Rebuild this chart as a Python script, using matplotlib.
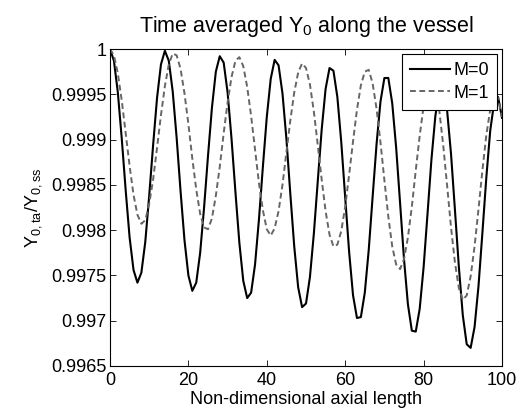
import matplotlib
matplotlib.use('Agg')
import matplotlib.pyplot as plt
import numpy as np

# axial positions (non-dimensional), one sample per unit
axial_pos = np.arange(0, 101)

# Y0 time averaged / steady state
ratio_m0 = [
    1.00000, 0.99987, 0.99952, 0.99901, 0.99844, 0.99792, 0.99756, 0.99742,
    0.99753, 0.99787, 0.99838, 0.99894, 0.99946, 0.99983, 0.99998,
    0.99987, 0.99953, 0.99902, 0.99843, 0.99789, 0.99750, 0.99733,
    0.99742, 0.99775, 0.99825, 0.99882, 0.99935, 0.99975, 0.99992,
    0.99985, 0.99952, 0.99901, 0.99842, 0.99786, 0.99744, 0.99725,
    0.99731, 0.99762, 0.99812, 0.99870, 0.99925, 0.99967, 0.99988,
    0.99982, 0.99951, 0.99901, 0.99840, 0.99782, 0.99737, 0.99715,
    0.99719, 0.99748, 0.99796, 0.99854, 0.99911, 0.99956, 0.99979,
    0.99976, 0.99947, 0.99897, 0.99836, 0.99776, 0.99728, 0.99703,
    0.99704, 0.99731, 0.99778, 0.99837, 0.99895, 0.99942, 0.99968,
    0.99968, 0.99940, 0.99891, 0.99830, 0.99768, 0.99718, 0.99689,
    0.99688, 0.99713, 0.99759, 0.99818, 0.99878, 0.99926, 0.99955,
    0.99958, 0.99932, 0.99884, 0.99822, 0.99759, 0.99706, 0.99674,
    0.99670, 0.99693, 0.99738, 0.99797, 0.99858, 0.99910, 0.99941,
    0.99947, 0.99924,
]

ratio_m1 = [
    1.00000, 0.99993, 0.99973, 0.99943, 0.99907, 0.99871, 0.99839, 0.99817, 0.99807,
    0.99811, 0.99829, 0.99856, 0.99891, 0.99927, 0.99959, 0.99983, 0.99995,
    0.99993, 0.99978, 0.99951, 0.99917, 0.99879, 0.99845, 0.99818, 0.99803,
    0.99801, 0.99813, 0.99838, 0.99870, 0.99907, 0.99941, 0.99969, 0.99987,
    0.99991, 0.99981, 0.99958, 0.99926, 0.99889, 0.99852, 0.99822, 0.99801,
    0.99794, 0.99802, 0.99821, 0.99850, 0.99886, 0.99921, 0.99952, 0.99974, 0.99984,
    0.99979, 0.99961, 0.99931, 0.99894, 0.99856, 0.99821, 0.99795, 0.99782,
    0.99784, 0.99799, 0.99826, 0.99861, 0.99898, 0.99933, 0.99960, 0.99975,
    0.99977, 0.99962, 0.99934, 0.99897, 0.99855, 0.99815, 0.99782, 0.99762,
    0.99757, 0.99768, 0.99792, 0.99826, 0.99866, 0.99904, 0.99937, 0.99958,
    0.99966, 0.99957, 0.99932, 0.99894, 0.99849, 0.99803, 0.99764, 0.99736, 0.99723,
    0.99728, 0.99749, 0.99782, 0.99823, 0.99866, 0.99905, 0.99933, 0.99948,
    0.99946, 0.99925,
]

x_ticks = [0, 20, 40, 60, 80, 100]
y_ticks = [0.9965, 0.997, 0.9975, 0.998, 0.9985, 0.999, 0.9995, 1.0]
y_tick_labels = ['0.9965', '0.997', '0.9975', '0.998', '0.9985', '0.999', '0.9995', '1']

plt.rcParams['font.family'] = ['Liberation Sans', 'DejaVu Sans']
plt.rcParams['mathtext.default'] = 'regular'

fig = plt.figure(figsize=(5.23, 4.18), dpi=100)
ax = fig.add_axes([110 / 523, 1 - 366 / 418, 392 / 523, 317 / 418])

ax.plot(axial_pos, ratio_m0, color='k', lw=1.5, label='M=0')
ax.plot(axial_pos, ratio_m1, color='#666666', lw=1.4, ls=(0, (3, 1.8)), label='M=1')

ax.set_xlim(0, 100)
ax.set_ylim(0.9965, 1.0)
ax.set_xticks(x_ticks)
ax.set_xticklabels([str(t) for t in x_ticks])
ax.set_yticks(y_ticks)
ax.set_yticklabels(y_tick_labels)
ax.tick_params(direction='in', top=True, right=True, length=4, width=0.6,
               labelsize=13)
ax.tick_params(axis='x', pad=4)
ax.tick_params(axis='y', pad=2.5)
for s in ax.spines.values():
    s.set_linewidth(0.8)

ax.set_title(r'Time averaged Y$_0$ along the vessel', fontsize=15.5, pad=12)
ax.set_xlabel('Non-dimensional axial length', fontsize=13, labelpad=2)
ax.set_ylabel(r'Y$_{0,ta}$/Y$_{0,ss}$', fontsize=13, labelpad=5)

leg = ax.legend(loc='upper right', bbox_to_anchor=(1 - 5 / 392, 1 - 5 / 317),
                borderaxespad=0, fontsize=13, handlelength=2.2,
                handletextpad=0.2, labelspacing=0.3, borderpad=0.45,
                fancybox=False, framealpha=1)
leg.get_frame().set_edgecolor('k')
leg.get_frame().set_linewidth(0.8)

fig.savefig('out.png', dpi=100)
